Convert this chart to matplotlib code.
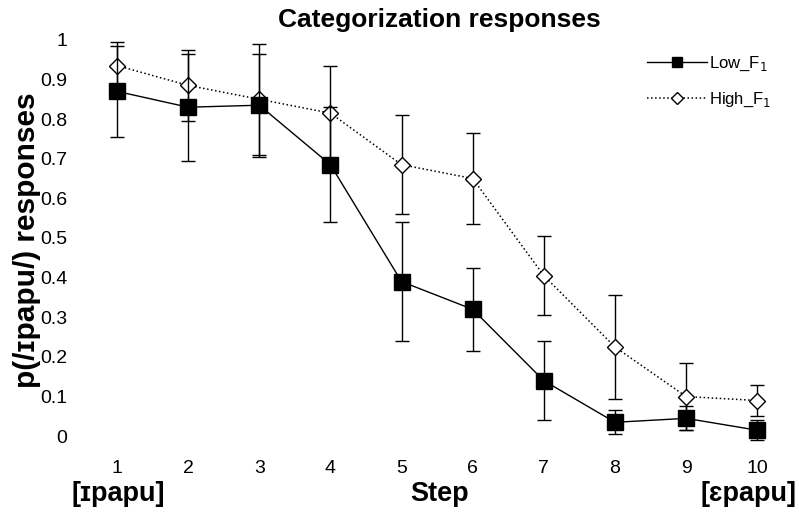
import numpy as np
import matplotlib.pyplot as plt
from matplotlib.lines import Line2D

plt.rcParams['font.family'] = ['Liberation Sans', 'DejaVu Sans']

steps = [1, 2, 3, 4, 5, 6, 7, 8, 9, 10]
low_f1 = [0.87, 0.83, 0.835, 0.685, 0.39, 0.32, 0.14, 0.035, 0.045, 0.015]
low_err = [0.115, 0.135, 0.13, 0.145, 0.15, 0.105, 0.10, 0.03, 0.03, 0.025]
high_f1 = [0.935, 0.885, 0.85, 0.815, 0.685, 0.65, 0.405, 0.225, 0.10, 0.09]
high_err = [0.06, 0.09, 0.14, 0.12, 0.125, 0.115, 0.10, 0.13, 0.085, 0.04]
y_ticks = [0, 0.1, 0.2, 0.3, 0.4, 0.5, 0.6, 0.7, 0.8, 0.9, 1]
y_labels = ['0', '0.1', '0.2', '0.3', '0.4', '0.5', '0.6', '0.7', '0.8', '0.9', '1']

W, H = 799, 516
fig = plt.figure(figsize=(W / 100, H / 100), dpi=100)
# axes placed in pixel coords: x 80..790, y 20..456
ax = fig.add_axes([80 / W, 1 - 456 / H, 710 / W, 436 / H])

ax.errorbar(steps, high_f1, yerr=high_err, color='black', linestyle=':', linewidth=1.1,
            marker='D', markersize=8.5, markerfacecolor='white', markeredgecolor='black',
            markeredgewidth=1.0, capsize=5, elinewidth=1.0, zorder=2)
ax.errorbar(steps, low_f1, yerr=low_err, color='black', linestyle='-', linewidth=1.0,
            marker='s', markersize=11, markerfacecolor='black', markeredgecolor='black',
            capsize=5, elinewidth=1.0, zorder=3)

ax.set_xlim(0.48, 10.46)
ax.set_ylim(-0.05, 1.05)
ax.set_xticks(steps)
ax.set_yticks(y_ticks)
ax.set_yticklabels(y_labels)
ax.tick_params(axis='both', length=0, labelsize=14)
ax.tick_params(axis='y', pad=9)
ax.tick_params(axis='x', pad=3)
for s in ax.spines.values():
    s.set_visible(False)

handles = [
    Line2D([], [], color='black', linestyle='-', linewidth=1.0, marker='s', markersize=7,
           markerfacecolor='black'),
    Line2D([], [], color='black', linestyle=':', linewidth=1.1, marker='D', markersize=6,
           markerfacecolor='white', markeredgewidth=1.0),
]
ax.legend(handles, ['Low_F$_1$', 'High_F$_1$'], loc='upper right', bbox_to_anchor=(0.995, 0.955),
          frameon=False, fontsize=12, handlelength=3.6, labelspacing=1.05, handletextpad=0.15)

fig.text(439 / W, 1 - 20 / H, 'Categorization responses', ha='center', va='center',
         fontsize=19, fontweight='bold')
fig.text(27 / W, 1 - 240 / H, 'p(/ɪpapu/) responses', rotation=90, ha='center', va='center',
         fontsize=21.5, fontweight='bold')
fig.text(118 / W, 1 - 494 / H, '[ɪpapu]', ha='center', va='center', fontsize=19.5, fontweight='bold')
fig.text(440 / W, 1 - 494 / H, 'Step', ha='center', va='center', fontsize=19.5, fontweight='bold')
fig.text(748 / W, 1 - 494 / H, '[ɛpapu]', ha='center', va='center', fontsize=19.5, fontweight='bold')

fig.savefig('out.png', dpi=100)
